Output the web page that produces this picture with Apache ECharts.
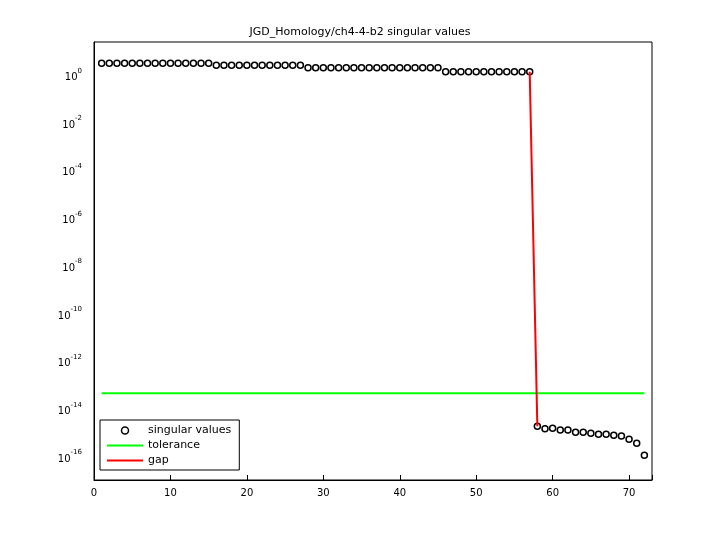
<!DOCTYPE html>
<html><head><meta charset="utf-8">
<script src="https://cdn.jsdelivr.net/npm/echarts@6/dist/echarts.min.js"></script>
<style>html,body{margin:0;padding:0;background:#fff}#c{width:720px;height:540px}</style>
</head><body><div id="c"></div>
<script>
// log10 of singular values
const singularExp = [
 0.46,0.46,0.46,0.46,0.46,0.46,0.46,0.46,0.46,0.46,0.46,0.46,0.46,0.46,0.46,
 0.38,0.38,0.38,0.38,0.38,0.38,0.38,0.38,0.38,0.38,0.38,0.38,
 0.27,0.27,0.27,0.27,0.27,0.27,0.27,0.27,0.27,0.27,0.27,0.27,0.27,0.27,0.27,0.27,0.27,0.27,
 0.10,0.10,0.10,0.10,0.10,0.10,0.10,0.10,0.10,0.10,0.10,0.10,
 -14.75,-14.85,-14.83,-14.91,-14.91,-15.0,-15.0,-15.04,-15.08,-15.08,-15.12,-15.16,-15.29,-15.46,-15.96
];
const toleranceExp = -13.37;
const gapIdx = [57, 58];
const yTicks = [-16,-14,-12,-10,-8,-6,-4,-2,0];
const svData = singularExp.map((v,i)=>[i+1,v]);
const gapData = gapIdx.map(i=>[i, singularExp[i-1]]);
const tolData = [[1,toleranceExp],[singularExp.length,toleranceExp]];
const font = 'DejaVu Sans';
const chart = echarts.init(document.getElementById('c'));
chart.setOption({
  animation:false,
  backgroundColor:'#fff',
  title:{text:'JGD_Homology/ch4-4-b2 singular values',left:'center',top:22,textStyle:{fontFamily:font,fontSize:11,fontWeight:'normal',color:'#000'}},
  grid:{left:94,right:68,top:42,bottom:60,show:true,borderColor:'#000',borderWidth:1},
  xAxis:{type:'value',min:0,max:73,interval:10,
    axisLine:{onZero:false,lineStyle:{color:'#000'}},axisTick:{inside:true,length:5,lineStyle:{color:'#000'}},
    axisLabel:{fontFamily:font,fontSize:10,color:'#000',formatter:v=>v>72?'':v},splitLine:{show:false}},
  yAxis:{type:'value',min:-17,max:1.35,interval:1,
    axisLine:{onZero:false,lineStyle:{color:'#000'}},axisTick:{show:false},splitLine:{show:false},
    axisLabel:{fontFamily:font,color:'#000',margin:12,
      formatter:v=>yTicks.includes(v)?'{b|10}{s|'+v+'}':'',
      rich:{b:{fontSize:10,fontFamily:font,color:'#000',padding:[6,0,0,0]},s:{fontSize:7,fontFamily:font,color:'#000',verticalAlign:'bottom',padding:[0,0,8,0]}}}},
  legend:{left:100,top:420,orient:'vertical',backgroundColor:'#fff',borderColor:'#000',borderWidth:1,
    padding:[5,8,4,6],itemGap:4,itemWidth:36,itemHeight:7,
    textStyle:{fontFamily:font,fontSize:11,color:'#000'},
    data:[{name:'singular values',icon:'circle',itemStyle:{color:'#fff',borderColor:'#000',borderWidth:1.5}},
          {name:'tolerance',itemStyle:{opacity:0}},{name:'gap',itemStyle:{opacity:0}}]},
  series:[
    {name:'singular values',type:'line',data:svData,lineStyle:{width:0,opacity:0},symbol:'circle',symbolSize:6,
      itemStyle:{color:'#fff',borderColor:'#000',borderWidth:1.5},z:3},
    {name:'tolerance',type:'line',data:tolData,symbol:'none',lineStyle:{color:'#00ff00',width:2},itemStyle:{color:'#00ff00'}},
    {name:'gap',type:'line',data:gapData,symbol:'none',lineStyle:{color:'#ff0000',width:2},itemStyle:{color:'#ff0000'},z:4}
  ]
});
</script></body></html>
